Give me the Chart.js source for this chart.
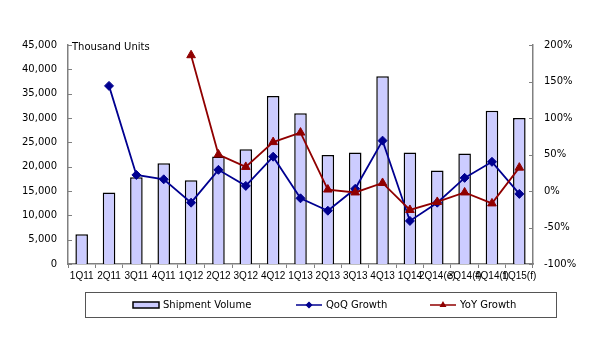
<!DOCTYPE html>
<html>
<head>
<meta charset="utf-8">
<script src="https://cdn.jsdelivr.net/npm/chart.js@4.4.0/dist/chart.umd.min.js"></script>
<style>
  html, body { margin: 0; padding: 0; background: #fff; }
  #wrap { width: 600px; height: 350px; }
</style>
</head>
<body>
<div id="wrap"><canvas id="chart" width="600" height="350"></canvas></div>
<script>
const quarters = ['1Q11', '2Q11', '3Q11', '4Q11', '1Q12', '2Q12', '3Q12', '4Q12', '1Q13',
    '2Q13', '3Q13', '4Q13', '1Q14', '2Q14(e)', '3Q14(f)', '4Q14(f)', '1Q15(f)'];
// thousand units
const shipmentVolume = [6100, 14700, 17800, 20700, 17200, 22100, 23600, 34500, 31000,
    22400, 22900, 38600, 22900, 19200, 22700, 31500, 30000];
// percent
const qoqGrowth = [null, 144, 22, 16, -16, 29, 7, 47, -10, -27, 3, 69, -41, -16, 18, 40, -4];
const yoyGrowth = [null, null, null, null, 186, 50, 33, 67, 80, 2, -2, 11, -26, -15, -2, -17, 32];

const leftTicks = [0, 5000, 10000, 15000, 20000, 25000, 30000, 35000, 40000, 45000];
const rightTicks = [-100, -50, 0, 50, 100, 150, 200];

const FONT = 'DejaVu Sans';
const axisGray = '#808080';

// unit label, inward y ticks and boxed legend
const extras = {
    id: 'extras',
    afterDraw(chart) {
        const ctx = chart.ctx;
        const area = chart.chartArea;
        ctx.save();

        // small inward tick marks on both y axes
        ctx.strokeStyle = axisGray;
        ctx.lineWidth = 1;
        ['y', 'y1'].forEach(id => {
            const sc = chart.scales[id];
            sc.ticks.forEach(t => {
                const py = Math.round(sc.getPixelForValue(t.value)) + 0.5;
                ctx.beginPath();
                if (id === 'y') { ctx.moveTo(area.left, py); ctx.lineTo(area.left + 4, py); }
                else { ctx.moveTo(area.right - 4, py); ctx.lineTo(area.right, py); }
                ctx.stroke();
            });
        });

        ctx.font = '10px "' + FONT + '"';
        ctx.fillStyle = '#000';
        ctx.textBaseline = 'top';
        ctx.textAlign = 'left';
        ctx.fillText('Thousand Units', area.left + 4, area.top - 3);

        // legend box
        const bx = 85, by = 292, bw = 471, bh = 25;
        ctx.strokeStyle = '#555';
        ctx.lineWidth = 1;
        ctx.strokeRect(bx + 0.5, by + 0.5, bw, bh);

        const cy = by + bh / 2 + 0.5;
        ctx.textBaseline = 'middle';
        const items = [
            { x: 133, text: 'Shipment Volume', type: 'bar' },
            { x: 296, text: 'QoQ Growth', type: 'line', color: '#000090', style: 'rectRot' },
            { x: 430, text: 'YoY Growth', type: 'line', color: '#900000', style: 'triangle' }
        ];
        items.forEach(it => {
            if (it.type === 'bar') {
                ctx.fillStyle = '#CCCCFF';
                ctx.fillRect(it.x, cy - 3, 26, 6);
                ctx.strokeStyle = '#000';
                ctx.lineWidth = 1.5;
                ctx.strokeRect(it.x, cy - 3, 26, 6);
            } else {
                ctx.strokeStyle = it.color;
                ctx.lineWidth = 1.5;
                ctx.beginPath();
                ctx.moveTo(it.x, cy);
                ctx.lineTo(it.x + 26, cy);
                ctx.stroke();
                Chart.helpers.drawPoint(ctx, {
                    pointStyle: it.style, radius: 2.5, borderWidth: 1, rotation: 0
                }, it.x + 13, cy);
                ctx.fillStyle = it.color;
                ctx.fill();
            }
            ctx.fillStyle = '#000';
            ctx.fillText(it.text, it.x + 30, cy);
        });
        ctx.restore();
    }
};

new Chart(document.getElementById('chart'), {
    type: 'bar',
    data: {
        labels: quarters,
        datasets: [
            {
                label: 'QoQ Growth', type: 'line', data: qoqGrowth, yAxisID: 'y1',
                borderColor: '#000090', backgroundColor: '#000090', borderWidth: 1.8,
                pointStyle: 'rectRot', pointRadius: 4.5, pointBorderWidth: 1,
                tension: 0, spanGaps: false, order: 1
            },
            {
                label: 'YoY Growth', type: 'line', data: yoyGrowth, yAxisID: 'y1',
                borderColor: '#900000', backgroundColor: '#900000', borderWidth: 1.8,
                pointStyle: 'triangle', pointRadius: 5, pointBorderWidth: 1,
                tension: 0, spanGaps: false, order: 0
            },
            {
                label: 'Shipment Volume', data: shipmentVolume, yAxisID: 'y',
                backgroundColor: '#CCCCFF', borderColor: '#000', borderWidth: 1.5,
                barPercentage: 0.46, categoryPercentage: 1, order: 2
            }
        ]
    },
    options: {
        responsive: false,
        animation: false,
        layout: { padding: { top: 45, bottom: 66, left: 0, right: 0 } },
        plugins: {
            legend: { display: false },
            tooltip: { enabled: false }
        },
        scales: {
            x: {
                offset: true,
                grid: { display: true, drawOnChartArea: false, drawTicks: true, tickLength: 4, color: axisGray, offset: true },
                border: { color: axisGray, width: 1.5 },
                ticks: {
                    autoSkip: false, maxRotation: 0, minRotation: 0, padding: 2,
                    color: '#000', font: { family: 'Liberation Sans', size: 10 }
                }
            },
            y: {
                position: 'left', min: 0, max: 45000,
                afterBuildTicks: axis => { axis.ticks = leftTicks.map(v => ({ value: v })); },
                afterFit: axis => { axis.width = 68; },
                grid: { display: false },
                border: { color: axisGray, width: 1.5 },
                ticks: {
                    padding: 3, color: '#000', font: { family: FONT, size: 10 },
                    callback: v => v.toLocaleString('en-US')
                }
            },
            y1: {
                position: 'right', min: -100, max: 200,
                afterBuildTicks: axis => { axis.ticks = rightTicks.map(v => ({ value: v })); },
                afterFit: axis => { axis.width = 67; },
                grid: { display: false },
                border: { color: axisGray, width: 1.5 },
                ticks: {
                    padding: 3, color: '#000', font: { family: FONT, size: 10 },
                    callback: v => v + '%'
                }
            }
        }
    },
    plugins: [extras]
});
</script>
</body>
</html>
